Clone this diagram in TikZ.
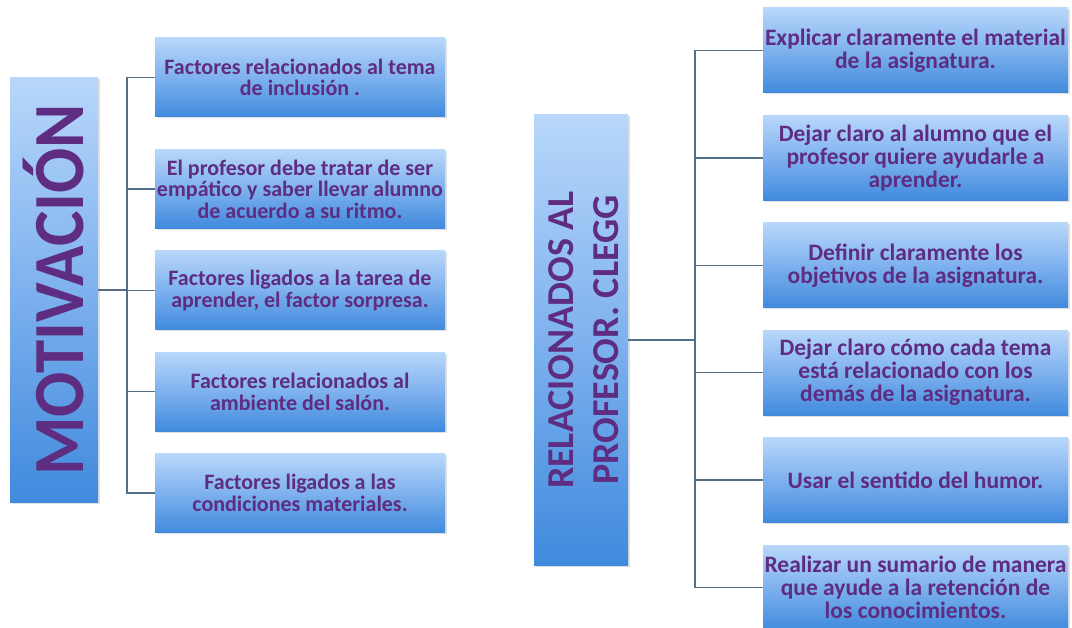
\documentclass[tikz,border=0pt]{standalone}
\usepackage{fontspec}
\setmainfont{Carlito}
\usepackage{tikz}
\usetikzlibrary{positioning, shadows}
\definecolor{box_top}{RGB}{184,215,250}
\definecolor{box_mid}{RGB}{126,177,238}
\definecolor{box_bot}{RGB}{64,138,221}
\definecolor{text_purple}{RGB}{94,44,128}
\definecolor{link_grey}{RGB}{84,112,136}

\tikzset{
	rootbox/.style={rectangle, top color=box_top, bottom color=box_bot, middle color=box_mid, text=text_purple, inner sep=0pt, align=center, drop shadow={shadow xshift=1.5pt, shadow yshift=-1.5pt, opacity=0.25}},
	leafbox/.style={rectangle, top color=box_top, bottom color=box_bot, middle color=box_mid, text=text_purple, inner xsep=0pt, align=center, font=\bfseries, drop shadow={shadow xshift=1.5pt, shadow yshift=-1.5pt, opacity=0.25}},
	leftleaf/.style={leafbox, minimum width=290pt, minimum height=79pt, font=\bfseries\fontsize{22}{21.5}\selectfont},
	rightleaf/.style={leafbox, minimum width=305pt, minimum height=85pt, font=\bfseries\fontsize{23.5}{23}\selectfont},
	link/.style={draw=link_grey, line width=1.4pt}
}

\begin{document}
\begin{tikzpicture}[x=1pt, y=-1pt]
			\useasboundingbox [fill=white] (0,0) rectangle (1072,628);
			% --- Motivacion side ---
			\node [rootbox, minimum width=88pt, minimum height=424pt] (motivacion) at (54,290) {};
			\node [rotate=90, text=text_purple, font=\bfseries\fontsize{72}{72}\selectfont] (motivacion_text) at (motivacion.center) {\scalebox{0.93}[1]{MOTIVACIÓN}};
			\node [leftleaf] (mot_a) at (300,77.5) {Factores relacionados al tema\\de inclusión .};
			\node [leftleaf, below=32pt of mot_a] (mot_b) {El profesor debe tratar de ser\\empático y saber llevar alumno\\de acuerdo a su ritmo.};
			\node [leftleaf, below=22pt of mot_b] (mot_c) {Factores ligados a la tarea de\\aprender, el factor sorpresa.};
			\node [leftleaf, below=22pt of mot_c] (mot_d) {Factores relacionados al\\ambiente del salón.};
			\node [leftleaf, below=22pt of mot_d] (mot_e) {Factores ligados a las\\condiciones materiales.};
			\coordinate (mot_trunk) at (127,0);
			\foreach \leaf in {mot_a, mot_b, mot_c, mot_d, mot_e}
				\draw [link] (motivacion.east) -- (motivacion.east -| mot_trunk) |- (\leaf.west);

			% --- Profesor side ---
			\node [rootbox, minimum width=94pt, minimum height=450pt] (profesor) at (581,340) {};
			\node [rotate=90, text=text_purple, align=center, font=\bfseries\fontsize{38}{45}\selectfont] (profesor_text) at ([xshift=3pt]profesor.center) {RELACIONADOS AL\\PROFESOR. CLEGG};
			\node [rightleaf] (prof_a) at (915.5,50.5) {Explicar claramente el material\\de la asignatura.};
			\node [rightleaf, below=22pt of prof_a] (prof_b) {Dejar claro al alumno que el\\profesor quiere ayudarle a\\aprender.};
			\node [rightleaf, below=22pt of prof_b] (prof_c) {Definir claramente los\\objetivos de la asignatura.};
			\node [rightleaf, below=22pt of prof_c] (prof_d) {Dejar claro cómo cada tema\\está relacionado con los\\demás de la asignatura.};
			\node [rightleaf, below=22pt of prof_d] (prof_e) {Usar el sentido del humor.};
			\node [rightleaf, below=22pt of prof_e] (prof_f) {Realizar un sumario de manera\\que ayude a la retención de\\los conocimientos.};
			\coordinate (prof_trunk) at (695,0);
			\foreach \leaf in {prof_a, prof_b, prof_c, prof_d, prof_e, prof_f}
				\draw [link] (profesor.east) -- (profesor.east -| prof_trunk) |- (\leaf.west);
		\end{tikzpicture}
\end{document}
